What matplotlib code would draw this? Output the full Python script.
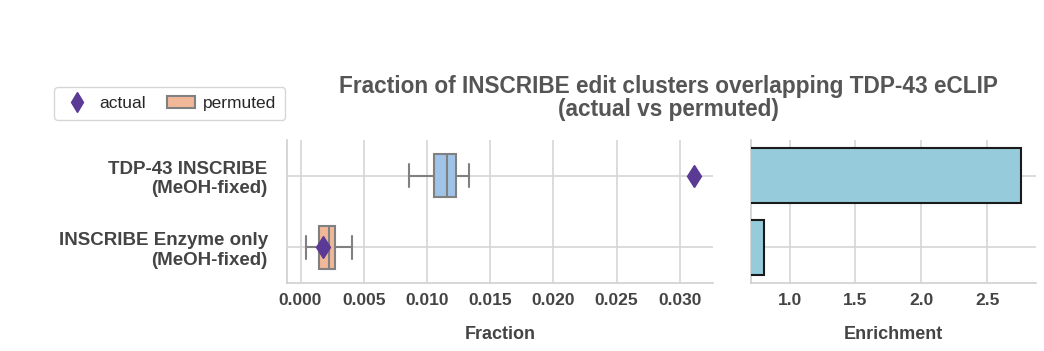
import matplotlib
matplotlib.use('Agg')
import matplotlib.pyplot as plt
import seaborn as sns
from matplotlib.lines import Line2D
from matplotlib.patches import Patch

sns.set_style('whitegrid')
plt.rcParams['font.family'] = ['Liberation Sans', 'DejaVu Sans']

# datos
grupos = ['TDP-43 INSCRIBE\n(MeOH-fixed)', 'INSCRIBE Enzyme only\n(MeOH-fixed)']
frac_actual = [0.0311, 0.0018]
perm_whislo = [0.00855, 0.00047]
perm_q1 = [0.01053, 0.0015]
perm_med = [0.01158, 0.00229]
perm_q3 = [0.01229, 0.00271]
perm_whishi = [0.01329, 0.00408]
enriquecimiento = [2.757, 0.805]

color_txt = '#444444'
colores_caja = ['#9fc4e8', '#f0b899']
color_punto = '#5b3a96'
color_barra = '#96cbdb'

fig = plt.figure(figsize=(10.44, 3.51), dpi=100)
ax1 = fig.add_axes([0.275, 0.194, 0.408, 0.407])
ax2 = fig.add_axes([0.719, 0.194, 0.273, 0.407])

stats = []
for i in range(len(grupos)):
    stats.append({'whislo': perm_whislo[i], 'q1': perm_q1[i], 'med': perm_med[i],
                  'q3': perm_q3[i], 'whishi': perm_whishi[i], 'fliers': []})

caja_props = dict(color='#808080', linewidth=1.5)
bp = ax1.bxp(stats, positions=range(len(grupos)), vert=False, widths=0.6,
             patch_artist=True, showfliers=False,
             boxprops=dict(edgecolor='#808080', linewidth=1.5),
             medianprops=caja_props, whiskerprops=caja_props,
             capprops=caja_props, capwidths=0.32, manage_ticks=False)
for caja, c in zip(bp['boxes'], colores_caja):
    caja.set_facecolor(c)

ax1.plot(frac_actual, range(len(grupos)), linestyle='none', marker='d',
         markersize=11.5, color=color_punto, zorder=5)

ax1.set_yticks(range(len(grupos)))
ax1.set_yticklabels(grupos, fontsize=13.5, fontweight='bold', color=color_txt)
ax1.set_ylim(1.5, -0.5)
ax1.margins(x=0.05)
ax1.set_xticks([0.0, 0.005, 0.01, 0.015, 0.02, 0.025, 0.03])
ax1.set_xticklabels(['0.000', '0.005', '0.010', '0.015', '0.020', '0.025', '0.030'])
ax1.set_xlabel('Fraction', fontsize=13, fontweight='bold', color=color_txt, labelpad=13)

ax2.barh(range(len(grupos)), enriquecimiento, height=0.77, color=color_barra,
         edgecolor='#1a1a1a', linewidth=1.5, zorder=3)
ax2.set_ylim(1.5, -0.5)
ax2.set_yticks(range(len(grupos)))
ax2.set_yticklabels([])
ax2.set_xlim(min(enriquecimiento) - 0.1, max(enriquecimiento) * 1.04)
ax2.set_xticks([1.0, 1.5, 2.0, 2.5])
ax2.set_xlabel('Enrichment', fontsize=13, fontweight='bold', color=color_txt, labelpad=13)

for ax in (ax1, ax2):
    sns.despine(ax=ax)
    ax.tick_params(axis='x', labelsize=12.5, labelcolor=color_txt, length=0, pad=7)
    ax.tick_params(axis='y', length=0, pad=14)
    for lbl in ax.get_xticklabels():
        lbl.set_fontweight('bold')
    for s in ('left', 'bottom'):
        ax.spines[s].set_color('#d0d0d0')
        ax.spines[s].set_linewidth(1.2)
    ax.grid(True, color='#d5d5d5', linewidth=1.2)
    ax.set_axisbelow(True)

fig.text(0.64, 0.72, 'Fraction of INSCRIBE edit clusters overlapping TDP-43 eCLIP\n(actual vs permuted)',
         ha='center', va='center', fontsize=16.3, fontweight='bold', color='#555555',
         linespacing=1.0)

handles = [Line2D([], [], linestyle='none', marker='d', markersize=10, color=color_punto),
           Patch(facecolor=colores_caja[1], edgecolor='#808080', linewidth=1.5)]
fig.legend(handles, ['actual', 'permuted'], loc='upper left', bbox_to_anchor=(0.052, 0.752),
           ncol=2, fontsize=12.5, frameon=True, handlelength=1.6, handletextpad=0.5,
           columnspacing=1.2, borderpad=0.5, borderaxespad=0)

fig.savefig('out.png', dpi=100)
